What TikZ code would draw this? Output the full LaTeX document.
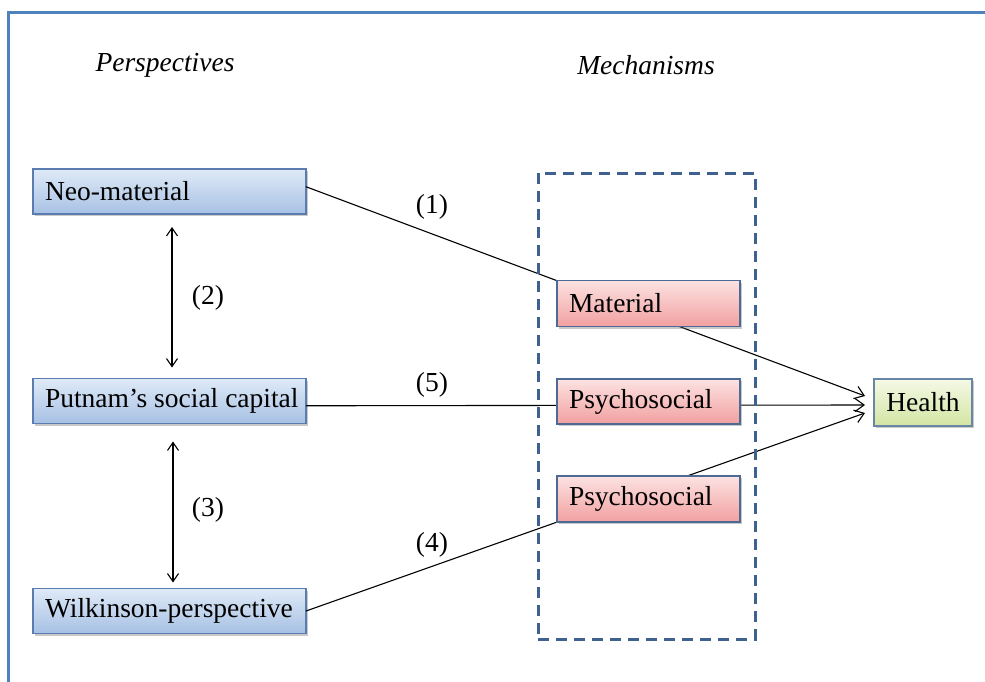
\documentclass[tikz,border=0pt]{standalone}
\usepackage{fontspec}
\setmainfont{Liberation Serif}
\usetikzlibrary{arrows.meta,shadows}
\definecolor{frameblue}{HTML}{4F81BD}
\definecolor{dashblue}{HTML}{3F6190}
\definecolor{bluetop}{HTML}{DFEAF7}
\definecolor{bluebot}{HTML}{A7C1E4}
\definecolor{blueline}{HTML}{5A7CB0}
\definecolor{pinktop}{HTML}{FCE2E2}
\definecolor{pinkbot}{HTML}{F2A0A0}
\definecolor{pinkline}{HTML}{4D6A94}
\definecolor{greentop}{HTML}{F5F9E6}
\definecolor{greenbot}{HTML}{D3E5A3}
\definecolor{greenline}{HTML}{6A86A6}
\newcommand{\lbox}[2]{\makebox[#1][l]{#2}}
\tikzset{
  basebox/.style={rectangle, line width=1.3pt, inner sep=0pt, outer sep=0pt,
    font=\fontsize{27.5}{33}\selectfont,
    drop shadow={shadow xshift=1.5pt, shadow yshift=-2pt, opacity=0.35, fill=black!60}},
  persp/.style={basebox, draw=blueline, top color=bluetop, bottom color=bluebot,
    minimum width=273pt, minimum height=45pt},
  mechbox/.style={basebox, draw=pinkline, top color=pinktop, bottom color=pinkbot,
    minimum width=183pt, minimum height=46pt},
  healthbox/.style={basebox, draw=greenline, top color=greentop, bottom color=greenbot,
    minimum width=98pt, minimum height=47pt, align=center},
  heading/.style={font=\fontsize{27.5}{33}\selectfont\itshape},
  lab/.style={font=\fontsize{27.5}{33}\selectfont},
  conn/.style={line width=1.1pt, black},
  arr/.style={conn, -{Straight Barb[length=9pt,width=13pt,line width=1.1pt]}},
  dbl/.style={conn, {Straight Barb[length=8pt,width=11pt,line width=1.1pt]}-{Straight Barb[length=8pt,width=11pt,line width=1.1pt]}},
  dashframe/.style={rectangle, draw=dashblue, line width=3pt, dash pattern=on 11pt off 7pt,
    minimum width=217pt, minimum height=466pt, inner sep=0pt}
}
\begin{document}
\begin{tikzpicture}[x=1pt,y=-1pt]
\useasboundingbox (0,0) rectangle (985,682);
\fill[white] (0,0) rectangle (985,682);
% outer frame
\coordinate (ftl) at (8,13);
\coordinate (ftr) at (986,13);
\coordinate (fbl) at (8,683);
\draw[frameblue, line width=3pt] (ftr) -- (ftl) -- (fbl);

% headings
\node[heading] (hp) at (165,65) {Perspectives};
\node[heading] (hm) at (646,65) {Mechanisms};

% perspective boxes
\node[persp] (neo) at (169.5,191.5) {\lbox{249pt}{Neo-material}};
\node[persp] (putnam) at (169.5,401) {\lbox{249pt}{Putnam’s social capital}};
\node[persp] (wilk) at (169.5,611) {\lbox{249pt}{Wilkinson-perspective}};

% health
\node[healthbox] (health) at (923,402.5) {Health};
\coordinate (h1) at ([xshift=-9pt,yshift=6.5pt]health.west);
\coordinate (h2) at ([xshift=-9pt,yshift=-2.5pt]health.west);
\coordinate (h3) at ([xshift=-9pt,yshift=-10.5pt]health.west);

% connectors (pass behind mechanism boxes)
\draw[arr] (neo.2) -- (h1);
\draw[arr] (putnam.-2) -- (h2);
\draw[arr] (wilk.east) -- (h3);

% dashed mechanisms frame
\node[dashframe] (mframe) at (646.5,406) {};

% mechanism boxes
\node[mechbox] (material) at (648.5,303.5) {\lbox{159pt}{Material}};
\node[mechbox, minimum height=45pt] (psy1) at (648.5,401.5) {\lbox{159pt}{Psychosocial}};
\node[mechbox] (psy2) at (648.5,499) {\lbox{159pt}{Psychosocial}};

% vertical double arrows
\draw[dbl, shorten <=13pt, shorten >=11pt] ([xshift=2.5pt]neo.south) -- ([xshift=2.5pt]putnam.north);
\draw[dbl, shorten <=18pt, shorten >=6pt] ([xshift=3.5pt]putnam.south) -- ([xshift=3.5pt]wilk.north);

% labels
\node[lab] (l1) at (432,207) {(1)};
\node[lab] (l2) at (208,298) {(2)};
\node[lab] (l5) at (432,385) {(5)};
\node[lab] (l3) at (208,510) {(3)};
\node[lab] (l4) at (432,545) {(4)};
\end{tikzpicture}
\end{document}
